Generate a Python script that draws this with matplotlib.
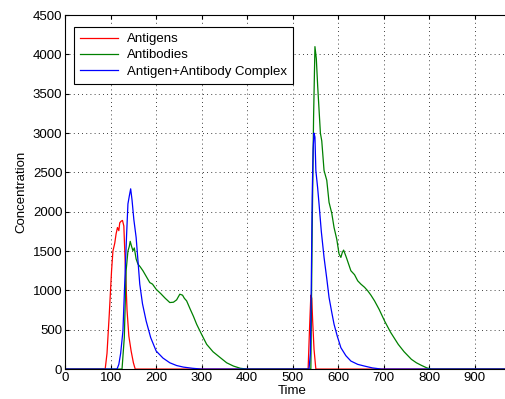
import matplotlib
matplotlib.use("Agg")
import matplotlib.pyplot as plt

plt.rcParams['font.family'] = ['Liberation Sans', 'DejaVu Sans']
plt.rcParams['font.size'] = 9.5

# time/value pairs
antigen_t = [0, 88, 92, 97, 102, 105, 109, 112, 115, 118, 120, 123, 126, 129, 132, 136, 140, 145, 150, 154,
             530, 534, 537, 540, 542, 544, 547, 551, 970]
antigen_y = [0, 0, 200, 700, 1250, 1500, 1600, 1720, 1800, 1760, 1860, 1880, 1890, 1820, 1350, 750, 420, 230, 80, 0,
             0, 0, 500, 940, 900, 610, 250, 0, 0]

antibody_t = [0, 125, 130, 134, 138, 141, 143, 146, 149, 152, 156, 160, 165, 171, 178, 186, 192, 200, 210, 220, 230,
              238, 245, 252, 258, 262, 267, 275, 282, 289, 300, 311, 325, 341, 355, 370, 385, 400,
              535, 540, 543, 546, 549, 552, 555, 558, 561, 564, 569, 575, 580, 586, 591, 597, 602, 606, 609, 612,
              618, 628, 636, 643, 650, 658, 665, 672, 680, 690, 702, 715, 732, 745, 761, 772, 783, 795, 805, 970]
antibody_y = [0, 0, 400, 1250, 1500, 1560, 1624, 1560, 1505, 1540, 1400, 1335, 1300, 1250, 1180, 1100, 1080, 1015, 960, 900, 846,
              850, 880, 952, 940, 900, 867, 760, 670, 570, 440, 315, 220, 145, 80, 38, 10, 0,
              0, 0, 1800, 3200, 4100, 3950, 3600, 3300, 3000, 2900, 2525, 2400, 2120, 1980, 1800, 1650, 1463, 1420, 1480, 1513,
              1420, 1250, 1200, 1122, 1080, 1040, 995, 940, 867, 760, 612, 470, 315, 220, 124, 80, 47, 15, 0, 0]

complex_t = [0, 114, 118, 122, 127, 131, 135, 138, 141, 144, 147, 151, 156, 160, 164, 170, 178, 188, 200, 215, 230, 245,
             260, 280, 300,
             536, 539, 541, 543, 545, 547, 549, 551, 555, 558, 563, 569, 575, 580, 586, 591, 598, 606, 617, 628, 643,
             658, 675, 695, 970]
complex_y = [0, 0, 60, 200, 485, 1100, 1700, 2100, 2200, 2292, 2150, 1900, 1675, 1380, 1080, 830, 612, 400, 230, 140, 80, 45,
             25, 10, 0,
             0, 200, 1100, 2200, 2800, 3000, 2950, 2525, 2300, 2100, 1750, 1420, 1150, 910, 720, 570, 420, 272, 170, 102, 60,
             38, 15, 0, 0]

xticks = list(range(0, 1001, 100))
xtick_labels = [str(v) for v in xticks[:-1]] + ['']

fig = plt.figure(figsize=(5.05, 3.99), dpi=100)
ax = fig.add_axes([0.129, 0.075, 0.901, 0.887])

ax.plot(antigen_t, antigen_y, color='#ff0000', lw=0.9, label='Antigens')
ax.plot(antibody_t, antibody_y, color='#008000', lw=0.9, label='Antibodies')
ax.plot(complex_t, complex_y, color='#0000ff', lw=0.9, label='Antigen+Antibody Complex')

ax.set_xlim(0, 1000)
ax.set_ylim(0, 4500)
ax.set_xticks(xticks)
ax.set_xticklabels(xtick_labels)
ax.set_yticks(range(0, 4501, 500))
ax.tick_params(direction='in', top=True, right=True, length=3, pad=2)
ax.grid(True, linestyle=(0, (1, 4)), color='black', lw=0.6)
ax.set_xlabel('Time', labelpad=1)
ax.set_ylabel('Concentration', labelpad=4)
for s in ax.spines.values():
    s.set_linewidth(0.8)

leg = ax.legend(loc='upper left', bbox_to_anchor=(0.005, 0.985), fancybox=False, framealpha=1,
                edgecolor='black', handlelength=2.9, handletextpad=0.7, borderpad=0.45,
                labelspacing=0.3, fontsize=9.5)
leg.get_frame().set_linewidth(0.8)

fig.savefig('out.png', dpi=100)
